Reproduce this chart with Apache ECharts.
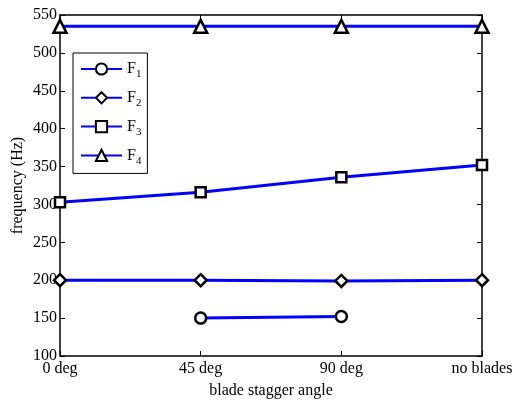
<!DOCTYPE html>
<html><head><meta charset="utf-8">
<script src="https://cdn.jsdelivr.net/npm/echarts@6/dist/echarts.min.js"></script>
<style>html,body{margin:0;padding:0;background:#fff}#c{width:512px;height:402px}</style>
</head><body><div id="c"></div>
<script>
const categories = ['0 deg', '45 deg', '90 deg', 'no blades'];
const F1 = [null, 150, 152, null];
const F2 = [200, 200, 199, 200];
const F3 = [303, 316, 336, 352];
const F4 = [535, 535, 535, 535];
const seriesNames = ['1', '2', '3', '4'];
const seriesData = [F1, F2, F3, F4];
const symbols = ['circle', 'diamond', 'rect', 'triangle'];
const symbolSizes = [11, 12, 10, 13];
const yMin = 100, yMax = 550, yStep = 50;

const font = 'Liberation Serif, Times New Roman, serif';
const chart = echarts.init(document.getElementById('c'));
const axisLine = {show: true, lineStyle: {color: '#000', width: 1.5}};
chart.setOption({
  animation: false,
  grid: {left: 60, right: 30, top: 15, bottom: 46, outerBoundsMode: 'none', containLabel: false},
  legend: {
    orient: 'vertical', left: 73, top: 53,
    padding: [8, 6, 7, 7], itemGap: 9.8,
    itemWidth: 41, itemHeight: 14,
    borderColor: '#000', borderWidth: 1, backgroundColor: '#fff',
    data: seriesNames,
    formatter: n => 'F{s|' + n + '}',
    textStyle: {fontFamily: font, fontSize: 16, color: '#000',
      rich: {s: {fontFamily: font, fontSize: 11, color: '#000', padding: [11, 0, 0, 0]}}}
  },
  xAxis: [{
    type: 'category', data: categories, boundaryGap: false,
    name: 'blade stagger angle', nameLocation: 'middle', nameGap: 27, nameMoveOverlap: false,
    nameTextStyle: {fontFamily: font, fontSize: 16, color: '#000'},
    axisLine: axisLine,
    axisTick: {show: true, inside: true, length: 5, lineStyle: {color: '#000'}},
    axisLabel: {fontFamily: font, fontSize: 16, color: '#000', margin: 5},
    splitLine: {show: false}
  }, {
    type: 'category', data: categories, boundaryGap: false, position: 'top',
    axisLine: axisLine,
    axisTick: {show: true, inside: true, length: 5, lineStyle: {color: '#000'}},
    axisLabel: {show: false}, splitLine: {show: false}
  }],
  yAxis: [{
    type: 'value', min: yMin, max: yMax, interval: yStep,
    name: 'frequency (Hz)', nameLocation: 'middle', nameGap: 34, nameMoveOverlap: false,
    nameTextStyle: {fontFamily: font, fontSize: 16, color: '#000'},
    axisLine: axisLine,
    axisTick: {show: true, inside: true, length: 5, lineStyle: {color: '#000'}},
    axisLabel: {fontFamily: font, fontSize: 16, color: '#000', margin: 3},
    splitLine: {show: false}
  }, {
    type: 'value', min: yMin, max: yMax, interval: yStep, position: 'right',
    axisLine: axisLine,
    axisTick: {show: true, inside: true, length: 5, lineStyle: {color: '#000'}},
    axisLabel: {show: false}, splitLine: {show: false}
  }],
  series: seriesNames.map((n, i) => ({
    name: n, type: 'line', data: seriesData[i],
    symbol: symbols[i], symbolSize: symbolSizes[i], showSymbol: true,
    connectNulls: false,
    lineStyle: {color: '#0000ff', width: 3},
    itemStyle: {color: '#fff', borderColor: '#000', borderWidth: 2.5},
    z: 3
  }))
});
</script></body></html>
